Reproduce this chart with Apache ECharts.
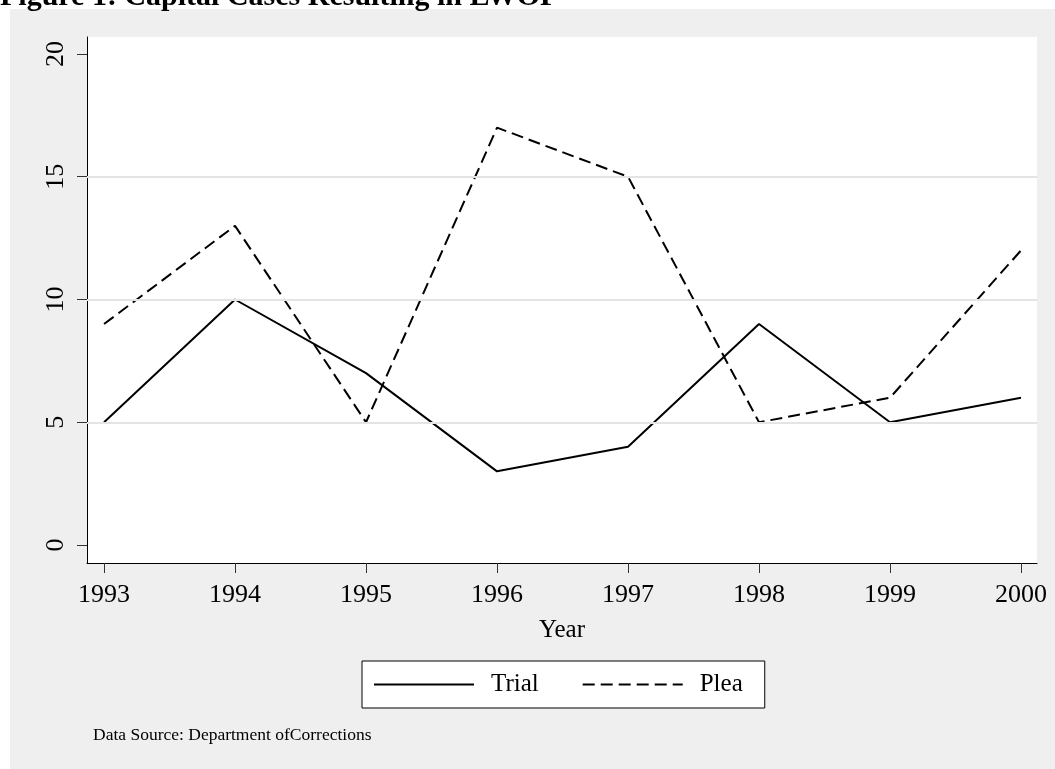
<!DOCTYPE html>
<html>
<head>
<meta charset="utf-8">
<script src="https://cdn.jsdelivr.net/npm/echarts@6/dist/echarts.min.js"></script>
<style>
  html, body { margin: 0; padding: 0; background: #fff; }
  #chart { width: 1055px; height: 769px; }
</style>
</head>
<body>
<div id="chart"></div>
<script>
  // data
  var years = [1993, 1994, 1995, 1996, 1997, 1998, 1999, 2000];
  var trial = [5, 10, 7, 3, 4, 9, 5, 6];
  var plea = [9, 13, 5, 17, 15, 5, 6, 12];
  var yTicks = [0, 5, 10, 15, 20];
  var gridValues = [5, 10, 15];

  var serif = "'Liberation Serif', 'DejaVu Serif', serif";

  function pairs(vals) {
    return years.map(function (y, i) { return [y, vals[i]]; });
  }

  var myChart = echarts.init(document.getElementById("chart"));
  var option = {
    animation: false,
    backgroundColor: "#fff",
    textStyle: { fontFamily: serif, color: "#000" },
    title: {
      text: "Figure 1: Capital Cases Resulting in LWOP",
      left: 0,
      top: -18,
      padding: 0,
      textStyle: { fontFamily: serif, fontWeight: "bold", fontSize: 30, color: "#000" },
      z: 10
    },
    graphic: [
      {
        type: "rect",
        z: -100,
        silent: true,
        shape: { x: 10, y: 9, width: 1045, height: 760 },
        style: { fill: "#efefef" }
      },
      {
        type: "text",
        left: 93,
        top: 726,
        style: { text: "Data Source: Department ofCorrections", font: "17.5px " + serif, fill: "#000" }
      }
    ],
    grid: {
      left: 87,
      top: 37,
      width: 950,
      height: 526,
      show: true,
      backgroundColor: "#fff",
      borderWidth: 0
    },
    legend: {
      data: ["Trial", "Plea"],
      left: 362,
      top: 661,
      itemWidth: 100,
      itemHeight: 14,
      itemGap: 43,
      padding: [11, 22, 11, 11],
      backgroundColor: "#fff",
      borderColor: "#000",
      borderWidth: 1,
      borderRadius: 0,
      itemStyle: { color: "transparent", borderWidth: 0, opacity: 0 },
      textStyle: { fontFamily: serif, fontSize: 25, color: "#000", padding: [0, 0, 0, 12] }
    },
    xAxis: {
      type: "value",
      min: 1992.87,
      max: 2000.122,
      name: "Year",
      nameLocation: "middle",
      nameGap: 55,
      nameTextStyle: { fontFamily: serif, fontSize: 25, color: "#000" },
      axisLine: { show: true, onZero: false, lineStyle: { color: "#000", width: 1 } },
      axisTick: { show: true, customValues: years, length: 10, lineStyle: { color: "#333" } },
      axisLabel: {
        customValues: years,
        margin: 19,
        fontFamily: serif,
        fontSize: 26,
        color: "#000",
        formatter: function (v) { return String(v); }
      },
      splitLine: { show: false }
    },
    yAxis: {
      type: "value",
      min: -0.733,
      max: 20.692,
      axisLine: { show: true, onZero: false, lineStyle: { color: "#000", width: 1 } },
      axisTick: { show: true, customValues: yTicks, length: 10, lineStyle: { color: "#333" } },
      axisLabel: {
        customValues: yTicks,
        rotate: 90,
        margin: 18,
        fontFamily: serif,
        fontSize: 26,
        color: "#000"
      },
      splitLine: { show: false }
    },
    series: [
      {
        // horizontal reference lines
        name: "grid",
        type: "line",
        data: [],
        z: 1,
        silent: true,
        markLine: {
          silent: true,
          symbol: "none",
          label: { show: false },
          lineStyle: { color: "#e4e4e4", width: 2, type: "solid" },
          data: gridValues.map(function (v) { return { yAxis: v }; })
        }
      },
      {
        name: "Trial",
        type: "line",
        data: pairs(trial),
        symbol: "none",
        z: 3,
        lineStyle: { color: "#000", width: 2, type: "solid" },
        itemStyle: { color: "#000" }
      },
      {
        name: "Plea",
        type: "line",
        data: pairs(plea),
        symbol: "none",
        z: 3,
        lineStyle: { color: "#000", width: 2, type: [12, 6] },
        itemStyle: { color: "#000" }
      }
    ]
  };
  myChart.setOption(option);
</script>
</body>
</html>
